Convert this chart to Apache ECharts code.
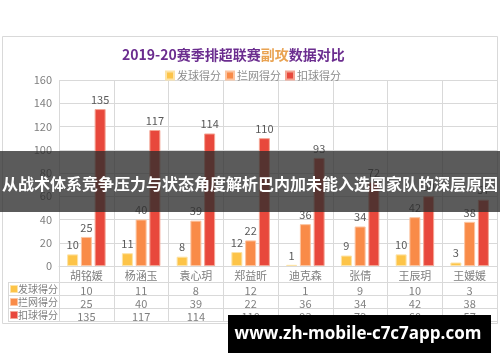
<!DOCTYPE html>
<html><head><meta charset="utf-8">
<script src="https://cdn.jsdelivr.net/npm/echarts@6/dist/echarts.min.js"></script>
<style>html,body{margin:0;padding:0;background:#fff}#c{width:500px;height:362px}</style>
</head><body><div id="c"></div>
<script>
var players = ['胡铭媛','杨涵玉','袁心玥','郑益昕','迪克森','张倩','王辰玥','王媛媛'];
var seriesNames = ['发球得分','拦网得分','扣球得分'];
var serve = [10, 11, 8, 12, 1, 9, 10, 3];
var block = [25, 40, 39, 22, 36, 34, 42, 38];
var spike = [135, 117, 114, 110, 93, 72, 60, 57];
var yTicks = {min: 0, max: 160, interval: 20};
var titleMain = ['2019-20赛季排超联赛', '副攻', '数据对比'];
var banner = '从战术体系竞争压力与状态角度解析巴内加未能入选国家队的深层原因';
var watermark = 'www.zh-mobile-c7c7app.com';

var colors = ['#fdc448', '#f98b48', '#e8483c'];
var borders = ['#fde3a6', '#fcc4a0', '#f4a594'];
var values = [serve, block, spike];
var lineC = '#d9d9d9';
var font = '"Noto Sans CJK SC", "Noto Sans", sans-serif';

var chart = echarts.init(document.getElementById('c'), null, {renderer: 'canvas'});

function tableAxis(arr, offset) {
  return {
    type: 'category', gridIndex: 0, position: 'bottom', offset: offset,
    data: players,
    axisLine: {show: true, lineStyle: {color: lineC}},
    axisTick: {show: true, length: 13, lineStyle: {color: lineC}},
    axisLabel: {show: true, margin: 3, color: '#7f7f7f', fontSize: 11, fontFamily: font,
      formatter: function (v, i) { return String(arr[i]); }},
    splitLine: {show: false}
  };
}

var xAxes = [
  {type: 'category', gridIndex: 0, position: 'bottom', offset: 0, data: players,
   axisLine: {show: true, lineStyle: {color: lineC}},
   axisTick: {show: true, length: 16, lineStyle: {color: lineC}},
   axisLabel: {margin: 4, color: '#7f7f7f', fontSize: 11, fontFamily: font},
   splitLine: {show: true, lineStyle: {color: lineC}}},
  tableAxis(serve, 16),
  tableAxis(block, 29),
  tableAxis(spike, 42),
  {type: 'category', gridIndex: 0, position: 'bottom', offset: 55, data: players,
   axisLine: {show: true, lineStyle: {color: lineC}}, axisTick: {show: false},
   axisLabel: {show: false}, splitLine: {show: false}}
];

var series = seriesNames.map(function (n, k) {
  return {
    name: n, type: 'bar', xAxisIndex: 0, yAxisIndex: 0,
    data: values[k], barWidth: 11, barGap: '25%',
    itemStyle: {color: colors[k], borderColor: borders[k], borderWidth: 1},
    label: {show: true, position: 'top', distance: 4, color: '#595959', fontSize: 11, fontFamily: font}
  };
});

var graphics = [
  {type: 'rect', shape: {x: 2.5, y: 36.5, width: 495, height: 287}, style: {fill: 'none', stroke: lineC, lineWidth: 1}, z: 0, silent: true},
  {type: 'line', shape: {x1: 8, y1: 282.5, x2: 59, y2: 282.5}, style: {stroke: lineC}, z: 1},
  {type: 'line', shape: {x1: 8, y1: 295.5, x2: 59, y2: 295.5}, style: {stroke: lineC}, z: 1},
  {type: 'line', shape: {x1: 8, y1: 308.5, x2: 59, y2: 308.5}, style: {stroke: lineC}, z: 1},
  {type: 'line', shape: {x1: 8, y1: 321.5, x2: 59, y2: 321.5}, style: {stroke: lineC}, z: 1},
  {type: 'line', shape: {x1: 8.5, y1: 282, x2: 8.5, y2: 322}, style: {stroke: lineC}, z: 1}
];
seriesNames.forEach(function (n, k) {
  var y = 283 + k * 13;
  graphics.push({type: 'rect', shape: {x: 10.5, y: y + 2.5, width: 7, height: 7}, style: {fill: colors[k], stroke: borders[k], lineWidth: 1}, z: 2});
  graphics.push({type: 'text', style: {x: 18, y: y + 6.5, text: n, fill: '#7f7f7f', fontSize: 10, fontFamily: font, textVerticalAlign: 'middle', verticalAlign: 'middle'}, z: 2});
});
graphics.push({type: 'rect', shape: {x: 0, y: 151, width: 500, height: 61}, style: {fill: 'rgba(45,45,45,0.78)'}, z: 100});
graphics.push({type: 'text', style: {x: 250, y: 184, text: banner, fill: '#ffffff', fontSize: 16, fontWeight: 'bold', fontFamily: font, textAlign: 'center', align: 'center', textVerticalAlign: 'middle', verticalAlign: 'middle'}, z: 101});
graphics.push({type: 'rect', shape: {x: 228, y: 315, width: 263, height: 38}, style: {fill: '#000000'}, z: 100});
graphics.push({type: 'text', style: {x: 358, y: 334, text: watermark, fill: '#ffffff', fontSize: 17, fontWeight: 'bold', fontFamily: '"Open Sans", "DejaVu Sans", sans-serif', textAlign: 'center', align: 'center', textVerticalAlign: 'middle', verticalAlign: 'middle'}, z: 101});

chart.setOption({
  animation: false,
  backgroundColor: '#ffffff',
  title: {
    text: '{a|' + titleMain[0] + '}{b|' + titleMain[1] + '}{a|' + titleMain[2] + '}',
    left: 117, top: 43,
    textStyle: {rich: {
      a: {color: '#6b2d8f', fontSize: 14, fontWeight: 'bold', fontFamily: font},
      b: {color: '#e9a352', fontSize: 14, fontWeight: 'bold', fontFamily: font}
    }}
  },
  legend: {
    data: seriesNames, top: 65, left: 160, icon: 'rect', itemWidth: 8, itemHeight: 8, itemGap: 4,
    textStyle: {color: '#8c8c8c', fontSize: 11, fontFamily: font, padding: [0, 0, 0, -2]}
  },
  grid: {left: 59, right: 3, top: 80, bottom: 96, containLabel: false},
  xAxis: xAxes,
  yAxis: {
    type: 'value', min: yTicks.min, max: yTicks.max, interval: yTicks.interval,
    axisLine: {show: false}, axisTick: {show: false},
    axisLabel: {color: '#7f7f7f', fontSize: 11, margin: 7, fontFamily: font},
    splitLine: {lineStyle: {color: lineC}}
  },
  series: series,
  graphic: graphics
});
</script></body></html>
